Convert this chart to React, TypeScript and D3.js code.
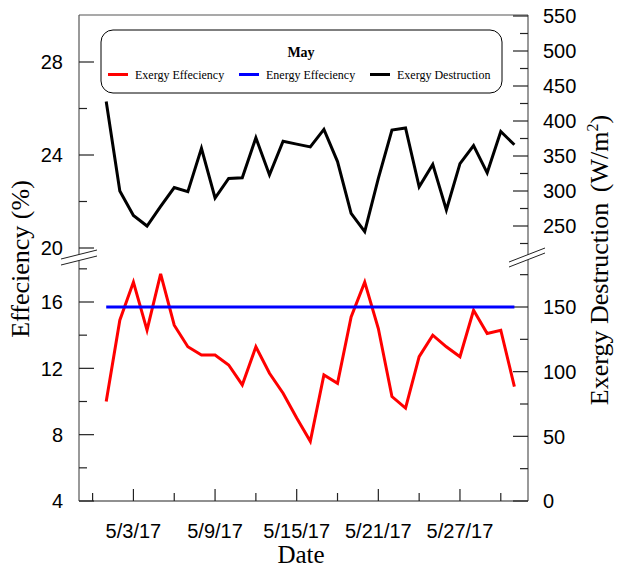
import React, { useEffect, useRef } from "react";
import * as d3 from "d3";

// May 2017, one value per day
const days = [1, 2, 3, 4, 5, 6, 7, 8, 9, 10, 11, 12, 13, 14, 15, 16, 17, 18, 19, 20, 21, 22, 23, 24, 25, 26, 27, 28, 29, 30, 31];
const exergyEff = [10.0, 14.9, 17.2, 14.3, 17.7, 14.6, 13.3, 12.8, 12.8, 12.2, 11.0, 13.3, 11.7, 10.5, 9.0, 7.6, 11.6, 11.1, 15.1, 17.2, 14.4, 10.3, 9.6, 12.7, 14.0, 13.3, 12.7, 15.5, 14.1, 14.3, 10.9];
const energyEff = [15.7, 15.7, 15.7, 15.7, 15.7, 15.7, 15.7, 15.7, 15.7, 15.7, 15.7, 15.7, 15.7, 15.7, 15.7, 15.7, 15.7, 15.7, 15.7, 15.7, 15.7, 15.7, 15.7, 15.7, 15.7, 15.7, 15.7, 15.7, 15.7, 15.7, 15.7];
const exergyDestr = [428, 300, 265, 250, 278, 305, 299, 361, 290, 318, 319, 376, 323, 371, 367, 363, 388, 342, 268, 242, 318, 387, 390, 306, 338, 273, 339, 365, 326, 385, 366];

const majorDates = ["2017-05-03", "2017-05-09", "2017-05-15", "2017-05-21", "2017-05-27"];
const majorLabels = ["5/3/17", "5/9/17", "5/15/17", "5/21/17", "5/27/17"];
const minorDates = ["2017-04-30", "2017-05-06", "2017-05-12", "2017-05-18", "2017-05-24", "2017-05-30"];

const leftLowMajor = [4, 8, 12, 16];
const leftLowMinor = [6, 10, 14, 18];
const leftHighMajor = [20, 24, 28];
const leftHighMinor = [22, 26];
const rightLowMajor = [0, 50, 100, 150];
const rightLowMinor = [25, 75, 125, 175];
const rightHighMajor = [250, 300, 350, 400, 450, 500, 550];
const rightHighMinor = [225, 275, 325, 375, 425, 475, 525];

const legendItems = [
  { label: "Exergy Effeciency", color: "#ff0000" },
  { label: "Energy Effeciency", color: "#0000ff" },
  { label: "Exergy Destruction", color: "#000000" },
];

const SANS = "'Liberation Sans', Arial, sans-serif";
const SERIF = "'Liberation Serif', 'Times New Roman', serif";

export default function App() {
  const ref = useRef<SVGSVGElement>(null);

  useEffect(() => {
    const svg = d3.select(ref.current);
    svg.selectAll("*").remove();

    const left = 79, right = 528, top = 15, bottom = 501;
    const parse = d3.timeParse("%Y-%m-%d");

    const x = d3.scaleTime()
      .domain([new Date(2017, 3, 29), new Date(2017, 5, 1)])
      .range([left, right]);

    // broken y axes: low and high segments
    const yLeftLow = d3.scaleLinear().domain([4, 16]).range([bottom, 302]);
    const yLeftHigh = d3.scaleLinear().domain([20, 30]).range([248, top + 0.5]);
    const yRightLow = d3.scaleLinear().domain([0, 150]).range([bottom, 307]);
    const yRightHigh = d3.scaleLinear().domain([250, 550]).range([226, 16]);

    const axisColor = "#555";

    // frame
    const frame = svg.append("g");
    frame.append("line").attr("x1", left).attr("x2", right).attr("y1", top).attr("y2", top)
      .attr("stroke", axisColor).attr("stroke-width", 1.2);
    frame.append("line").attr("x1", left).attr("x2", right).attr("y1", bottom).attr("y2", bottom)
      .attr("stroke", "#222").attr("stroke-width", 1.2);
    frame.append("line").attr("x1", left).attr("x2", left).attr("y1", top).attr("y2", bottom)
      .attr("stroke", axisColor).attr("stroke-width", 1.2);
    frame.append("line").attr("x1", right).attr("x2", right).attr("y1", top).attr("y2", bottom)
      .attr("stroke", axisColor).attr("stroke-width", 1.2);

    const tick = (g, x1, x2, y1, y2) =>
      g.append("line").attr("x1", x1).attr("x2", x2).attr("y1", y1).attr("y2", y2)
        .attr("stroke", "#222").attr("stroke-width", 1.2);

    const ticks = svg.append("g");
    leftLowMajor.forEach(v => tick(ticks, left, left + 15, yLeftLow(v), yLeftLow(v)));
    leftLowMinor.forEach(v => tick(ticks, left, left + 8, yLeftLow(v), yLeftLow(v)));
    leftHighMajor.forEach(v => tick(ticks, left, left + 15, yLeftHigh(v), yLeftHigh(v)));
    leftHighMinor.forEach(v => tick(ticks, left, left + 8, yLeftHigh(v), yLeftHigh(v)));
    rightLowMajor.forEach(v => tick(ticks, right - 15, right, yRightLow(v), yRightLow(v)));
    rightLowMinor.forEach(v => tick(ticks, right - 8, right, yRightLow(v), yRightLow(v)));
    rightHighMajor.forEach(v => tick(ticks, right - 15, right, yRightHigh(v), yRightHigh(v)));
    rightHighMinor.forEach(v => tick(ticks, right - 8, right, yRightHigh(v), yRightHigh(v)));
    majorDates.forEach(d => tick(ticks, x(parse(d)), x(parse(d)), bottom, bottom - 12));
    minorDates.forEach(d => tick(ticks, x(parse(d)), x(parse(d)), bottom, bottom - 8));

    // tick labels
    const labels = svg.append("g").style("font-family", SANS).style("font-size", "20px").attr("fill", "#000");
    const leftLabel = (v, y) => labels.append("text").attr("x", 63).attr("y", y).attr("dy", "0.36em")
      .attr("text-anchor", "end").text(v);
    leftLowMajor.forEach(v => leftLabel(v, yLeftLow(v)));
    leftHighMajor.forEach(v => leftLabel(v, yLeftHigh(v)));
    const rightLabel = (v, y) => labels.append("text").attr("x", 543).attr("y", y).attr("dy", "0.36em")
      .attr("text-anchor", "start").text(v);
    rightLowMajor.forEach(v => rightLabel(v, yRightLow(v)));
    rightHighMajor.forEach(v => rightLabel(v, yRightHigh(v)));
    majorDates.forEach((d, i) => labels.append("text").attr("x", x(parse(d))).attr("y", 538)
      .attr("text-anchor", "middle").text(majorLabels[i]));

    // axis breaks
    const brk = svg.append("g");
    [[61, 97, 259, 250, 265, 256], [509, 545, 262, 248, 267, 253]].forEach(([xa, xb, a1, a2, b1, b2]) => {
      brk.append("path").attr("d", `M${xa},${a1}L${xb},${a2}L${xb},${b2}L${xa},${b1}Z`).attr("fill", "#fff");
      brk.append("line").attr("x1", xa).attr("x2", xb).attr("y1", a1).attr("y2", a2).attr("stroke", "#222").attr("stroke-width", 1);
      brk.append("line").attr("x1", xa).attr("x2", xb).attr("y1", b1).attr("y2", b2).attr("stroke", "#222").attr("stroke-width", 1);
    });

    // series
    const dayDate = d => new Date(2017, 4, d);
    const lineLow = d3.line<number>().x((_, i) => x(dayDate(days[i]))).y(v => yLeftLow(v));
    const lineHigh = d3.line<number>().x((_, i) => x(dayDate(days[i]))).y(v => yRightHigh(v));

    svg.append("path").attr("d", lineLow(exergyEff)).attr("fill", "none")
      .attr("stroke", "#ff0000").attr("stroke-width", 3);
    svg.append("path").attr("d", lineLow(energyEff)).attr("fill", "none")
      .attr("stroke", "#0000ff").attr("stroke-width", 3.2);
    svg.append("path").attr("d", lineHigh(exergyDestr)).attr("fill", "none")
      .attr("stroke", "#000").attr("stroke-width", 3);

    // legend
    const legend = svg.append("g");
    legend.append("rect").attr("x", 101).attr("y", 30).attr("width", 401).attr("height", 63)
      .attr("rx", 12).attr("fill", "#fff").attr("stroke", "#000").attr("stroke-width", 1);
    legend.append("text").attr("x", 301).attr("y", 57).attr("text-anchor", "middle")
      .style("font-family", SERIF).style("font-size", "14px").style("font-weight", "bold").text("May");
    const itemX = [108, 239, 370];
    legendItems.forEach((item, i) => {
      legend.append("line").attr("x1", itemX[i]).attr("x2", itemX[i] + 20).attr("y1", 74.5).attr("y2", 74.5)
        .attr("stroke", item.color).attr("stroke-width", 3);
      legend.append("text").attr("x", itemX[i] + 27).attr("y", 79)
        .style("font-family", SERIF).style("font-size", "12px").text(item.label);
    });

    // axis titles
    svg.append("text").attr("transform", "translate(29,259) rotate(-90)").attr("text-anchor", "middle")
      .style("font-family", SERIF).style("font-size", "26px").text("Effeciency (%)");
    const rt = svg.append("text").attr("transform", "translate(608,260) rotate(-90)").attr("text-anchor", "middle")
      .style("font-family", SERIF).style("font-size", "26px");
    rt.append("tspan").text("Exergy Destruction ");
    rt.append("tspan").attr("dx", 4).text("(W/m");
    rt.append("tspan").attr("dy", -10).style("font-size", "16px").text("2");
    rt.append("tspan").attr("dy", 10).text(")");
    svg.append("text").attr("x", 301).attr("y", 563).attr("text-anchor", "middle")
      .style("font-family", SERIF).style("font-size", "25px").text("Date");
  }, []);

  return (
    <svg ref={ref} width={617} height={569}
      style={{ position: "absolute", left: 0, top: 0, background: "#fff" }} />
  );
}
